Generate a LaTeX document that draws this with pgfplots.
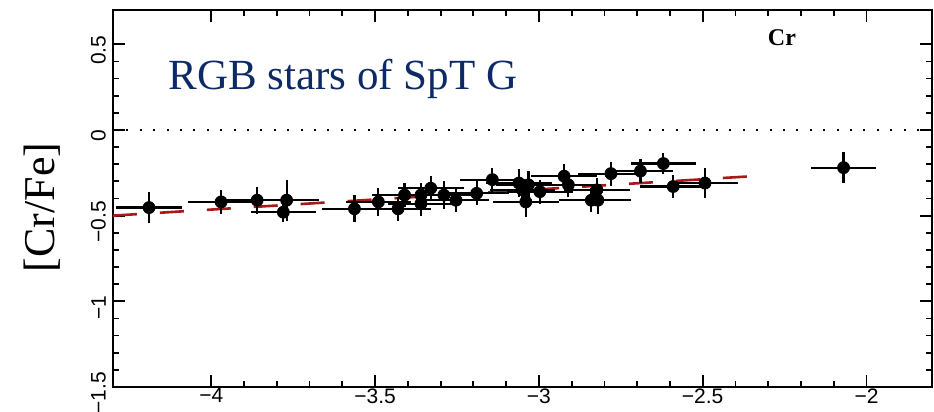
\documentclass[border=0pt]{standalone}
\usepackage{fontspec}
\setmainfont{Liberation Serif}
\setsansfont{Liberation Sans}
\usepackage{pgfplots}
\pgfplotsset{compat=1.18}
\definecolor{navy}{HTML}{0E2A66}
\definecolor{fitred}{HTML}{A81818}
\begin{document}
\begin{tikzpicture}
\begin{axis}[
  scale only axis,
  width=409.5pt, height=188.5pt,
  xmin=-4.3, xmax=-1.8, ymin=-1.5, ymax=0.7,
  xtick={-4,-3.5,-3,-2.5,-2},
  xticklabels={−4,−3.5,−3,−2.5,−2},
  ytick={-1.5,-1,-0.5,0,0.5},
  yticklabels={−1.5,−1,−0.5,0,0.5},
  minor x tick num=4, minor y tick num=4,
  tick align=inside,
  xtick pos=both, ytick pos=both,
  major tick length=6pt, minor tick length=3pt,
  every tick/.style={black, line width=0.9pt},
  axis line style={line width=1.3pt},
  tick label style={font=\sffamily\fontsize{10.5}{11}\selectfont},
  yticklabel style={rotate=90, anchor=south, xshift=-3pt},
  xticklabel style={inner sep=1pt, yshift=0.5pt},
  ylabel={[Cr/Fe]},
  ylabel style={at={(axis description cs:-0.0867,0.476)}, anchor=center, font=\fontsize{22}{24}\selectfont},
  clip mode=individual,
]
\addplot[black, line width=1pt, dash pattern=on 1pt off 5.7pt] coordinates {(-4.3,0) (-1.8,0)};
\addplot[fitred, line width=1.3pt, dash pattern=on 12pt off 11.5pt] coordinates {(-4.3,-0.50) (-2.35,-0.27)};
\addplot[only marks, mark=*, mark size=3pt, black,
  error bars/.cd, x dir=both, x explicit, y dir=both, y explicit,
  error mark=none, error bar style={line width=1.1pt, black}]
  table[x=x, y=y, x error=ex, y error=ey] {
x y ex ey
-4.19 -0.453 0.10 0.09
-3.97 -0.42 0.10 0.07
-3.86 -0.41 0.10 0.08
-3.77 -0.41 0.10 0.12
-3.78 -0.48 0.10 0.06
-3.563 -0.46 0.10 0.08
-3.49 -0.42 0.10 0.08
-3.43 -0.46 0.10 0.07
-3.41 -0.38 0.10 0.07
-3.36 -0.38 0.10 0.07
-3.36 -0.43 0.10 0.07
-3.33 -0.34 0.10 0.07
-3.29 -0.38 0.10 0.08
-3.253 -0.41 0.10 0.07
-3.19 -0.37 0.10 0.07
-3.142 -0.29 0.10 0.07
-3.061 -0.31 0.10 0.08
-3.032 -0.32 0.10 0.08
-3.05 -0.35 0.10 0.06
-3.04 -0.42 0.10 0.09
-2.997 -0.36 0.10 0.07
-2.923 -0.27 0.10 0.07
-2.91 -0.32 0.10 0.07
-2.823 -0.35 0.10 0.07
-2.84 -0.41 0.10 0.07
-2.82 -0.41 0.10 0.08
-2.78 -0.255 0.10 0.07
-2.69 -0.24 0.10 0.07
-2.62 -0.196 0.10 0.06
-2.59 -0.33 0.10 0.07
-2.493 -0.31 0.10 0.09
-2.07 -0.22 0.10 0.09
};
\node[anchor=base west, text=navy, font=\fontsize{21.5}{24}\selectfont, inner sep=0pt] at (axis cs:-4.132,0.235) {RGB stars of SpT G};
\node[anchor=center, font=\bfseries\fontsize{12}{14}\selectfont, inner sep=0pt] at (axis cs:-2.258,0.54) {Cr};
\end{axis}
\pgfresetboundingbox
\path[use as bounding box] ([xshift=-56.5pt,yshift=-12pt]current axis.south west) rectangle ([xshift=1pt,yshift=5pt]current axis.north east);
\end{tikzpicture}
\end{document}
